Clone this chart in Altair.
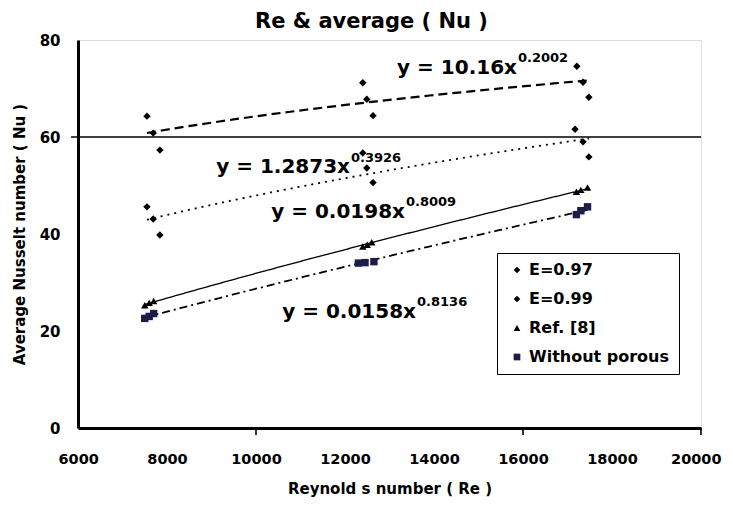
import altair as alt
import pandas as pd

series = ["E=0.97", "E=0.99", "Ref. [8]", "Without porous"]

re_e97 = [7550, 7690, 7840, 12400, 12490, 12630, 17210, 17350, 17480]
nu_e97 = [64.3, 60.8, 57.3, 71.2, 67.8, 64.4, 74.6, 71.3, 68.2]
re_e99 = [7550, 7690, 7840, 12400, 12490, 12630, 17170, 17350, 17480]
nu_e99 = [45.6, 43.1, 39.8, 56.7, 53.6, 50.6, 61.6, 59.0, 55.9]
re_ref = [7500, 7600, 7700, 12400, 12500, 12600, 17200, 17300, 17450]
nu_ref = [25.3, 25.8, 26.2, 37.4, 37.8, 38.3, 48.7, 49.1, 49.6]
re_wp = [7500, 7600, 7700, 12300, 12450, 12650, 17200, 17300, 17450]
nu_wp = [22.6, 23.0, 23.6, 34.0, 34.1, 34.3, 44.0, 44.8, 45.6]

x_ticks = [6000, 8000, 10000, 12000, 14000, 16000, 18000, 20000]
y_ticks = [0, 20, 40, 60, 80]
x_marks = [10000, 16000, 20000]

eq_main = ["y = 10.16x", "y = 1.2873x", "y = 0.0198x", "y = 0.0158x"]
eq_sup = ["0.2002", "0.3926", "0.8009", "0.8136"]
eq_re = [15865, 12112, 13348, 13596]
eq_nu_main = [74.2, 53.8, 44.5, 23.9]
eq_nu_sup = [76.3, 55.7, 46.6, 26.0]

rows = []
for name, rs, ns in zip(series, [re_e97, re_e99, re_ref, re_wp], [nu_e97, nu_e99, nu_ref, nu_wp]):
    for r, n in zip(rs, ns):
        rows.append({"Series": name, "Re": r, "Nu": n})
df = pd.DataFrame(rows)

W, H = 623, 388
FONT = "DejaVu Sans"

x_scale = alt.Scale(domain=[6000, 20000], nice=False)
y_scale = alt.Scale(domain=[0, 80], nice=False)

x_axis = alt.Axis(values=x_ticks, title="Reynold s number ( Re )", ticks=False, grid=False,
                  domainWidth=3, domainColor="black", labelPadding=24, labelFontSize=14.5,
                  labelFontWeight="bold", labelFont=FONT, labelColor="black", labelFlush=True,
                  labelFlushOffset=20,
                  titleFont=FONT, titleFontSize=15, titleFontWeight="bold", titlePadding=16,
                  titleColor="black", format="d")
y_axis = alt.Axis(values=y_ticks, title="Average Nusselt number ( Nu )", ticks=False, grid=False,
                  domainWidth=3, domainColor="black", labelPadding=18, labelFontSize=15,
                  labelFontWeight="bold", labelFont=FONT, labelColor="black",
                  titleFont=FONT, titleFontSize=15, titleFontWeight="bold", titlePadding=12,
                  titleColor="black")

legend = alt.Legend(title=None, orient="none", legendX=419, legendY=213, strokeColor="black",
                    padding=9, symbolOffset=3, labelFont=FONT, labelFontSize=16,
                    labelFontWeight="bold", labelColor="black", rowPadding=13, symbolSize=45,
                    labelOffset=4, fillColor="white")

base = alt.Chart(df)

dashes = [[9, 5], [2, 5], [1, 0], [8, 4, 2, 4]]
widths = [2.2, 1.8, 1.3, 1.8]
trends = []
for i, name in enumerate(series):
    trends.append(
        base.transform_filter(alt.datum.Series == name)
        .transform_regression("Re", "Nu", method="pow")
        .mark_line(color="black", strokeDash=dashes[i], strokeWidth=widths[i])
        .encode(x=alt.X("Re:Q", scale=x_scale, axis=x_axis),
                y=alt.Y("Nu:Q", scale=y_scale, axis=y_axis))
    )

points = base.mark_point(filled=True, opacity=1, size=55).encode(
    x=alt.X("Re:Q", scale=x_scale, axis=x_axis),
    y=alt.Y("Nu:Q", scale=y_scale, axis=y_axis),
    shape=alt.Shape("Series:N", scale=alt.Scale(domain=series,
                    range=["diamond", "diamond", "triangle-up", "square"]), legend=legend),
    color=alt.Color("Series:N", scale=alt.Scale(domain=series,
                    range=["#000000", "#000000", "#000000", "#1c1c48"]), legend=legend),
)

line60 = alt.Chart(pd.DataFrame({"Nu": [60]})).mark_rule(color="black", strokeWidth=1.6).encode(
    y="Nu:Q", x=alt.value(-7), x2=alt.value(W))

xticks = alt.Chart(pd.DataFrame({"Re": x_marks})).mark_rule(color="black", strokeWidth=1.6).encode(
    x="Re:Q", y=alt.value(H), y2=alt.value(H + 7))

ann = pd.DataFrame({"main": eq_main, "sup": eq_sup, "Re": eq_re,
                    "NuM": eq_nu_main, "NuS": eq_nu_sup})
t_main = alt.Chart(ann).mark_text(font=FONT, fontSize=20, fontWeight="bold", align="right",
                                  baseline="middle", color="black").encode(
    x="Re:Q", y=alt.Y("NuM:Q"), text="main:N")
t_sup = alt.Chart(ann).mark_text(font=FONT, fontSize=13, fontWeight="bold", align="left",
                                 baseline="middle", color="black", dx=1).encode(
    x="Re:Q", y=alt.Y("NuS:Q"), text="sup:N")

chart = alt.layer(*trends, points, line60, xticks, t_main, t_sup).properties(
    width=W, height=H,
    title=alt.Title("Re & average ( Nu )", font=FONT, fontSize=21, fontWeight="bold",
                    color="black", offset=1, dx=-18),
    autosize=alt.AutoSizeParams(type="none"),
    padding={"left": 70, "top": 32, "right": 24, "bottom": 74},
).configure_view(stroke="black", strokeWidth=2).configure(background="white")

chart.save("out.html", embed_options={"renderer": "svg", "actions": False})
